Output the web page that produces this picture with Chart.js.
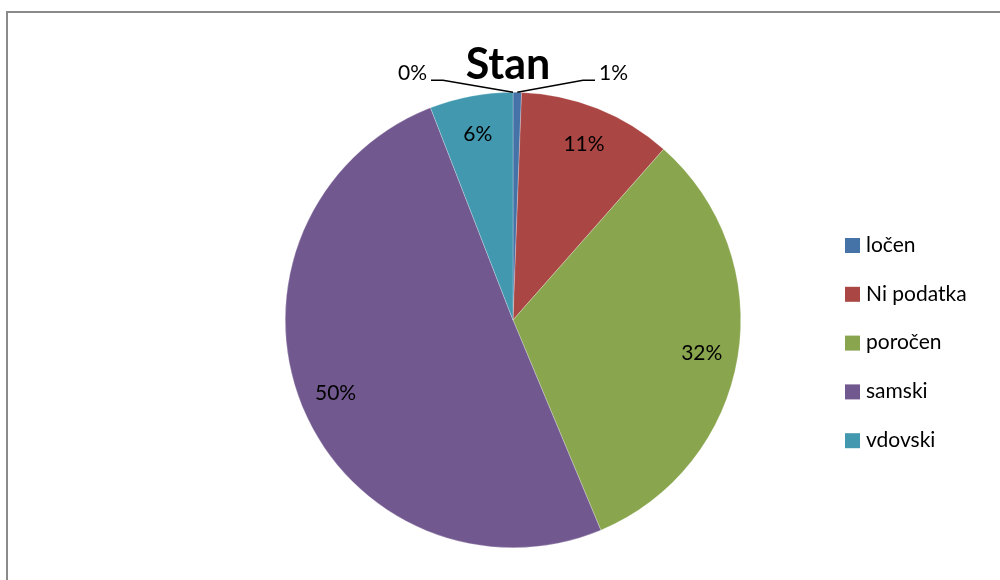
<!DOCTYPE html>
<html>
<head>
<meta charset="utf-8">
<script src="https://cdn.jsdelivr.net/npm/chart.js@4/dist/chart.umd.min.js"></script>
<style>
  html, body { margin: 0; padding: 0; background: #fff; overflow: hidden; }
  #wrap { position: relative; width: 1000px; height: 580px; }
  #frame { position: absolute; left: 6px; top: 11px; width: 1200px; height: 800px; border: 2px solid #8a8a8a; }
  canvas { position: absolute; left: 0; top: 0; }
</style>
</head>
<body>
<div id="wrap">
  <div id="frame"></div>
  <canvas id="myChart" width="1000" height="580"></canvas>
</div>
<script>
// data (share in %)
const categories = ['ločen', 'Ni podatka', 'poročen', 'samski', 'vdovski', ''];
const shares = [0.6, 10.9, 32.2, 50.4, 5.9, 0];
const sliceColors = ['#4572A7', '#AA4643', '#89A54E', '#71588F', '#4198AF', '#4572A7'];
const chartTitle = 'Stan';

const FONT = 'Lato, "Open Sans", sans-serif';

// labels, leader lines, title and legend drawn on top of the pie
const excelLook = {
    id: 'excelLook',
    afterDraw(chart) {
        const ctx = chart.ctx;
        const arcs = chart.getDatasetMeta(0).data;
        const total = shares.reduce((a, b) => a + b, 0);

        ctx.save();
        ctx.fillStyle = '#000';
        ctx.font = '21px ' + FONT;
        ctx.textBaseline = 'middle';

        arcs.forEach((arc, i) => {
            const pct = Math.round(shares[i] / total * 100) + '%';
            const mid = (arc.startAngle + arc.endAngle) / 2;
            const cx = arc.x, cy = arc.y, R = arc.outerRadius;
            if (shares[i] >= 2) {
                const r = R * 0.84;
                ctx.textAlign = 'center';
                ctx.fillText(pct, cx + Math.cos(mid) * r, cy + Math.sin(mid) * r + 2);
            } else {
                // small slice: label outside with a leader line
                let fromTop = mid + Math.PI / 2;
                fromTop = ((fromTop % (2 * Math.PI)) + 2 * Math.PI) % (2 * Math.PI);
                const side = (fromTop > 0 && fromTop < Math.PI) ? 1 : -1;
                const sx = cx + Math.cos(mid) * R, sy = cy + Math.sin(mid) * R;
                const ex = cx + side * 70, ey = cy - R - 12;
                const hx = ex + side * 12;
                ctx.strokeStyle = '#000';
                ctx.lineWidth = 1.5;
                ctx.beginPath();
                ctx.moveTo(sx, sy);
                ctx.lineTo(ex, ey);
                ctx.lineTo(hx, ey);
                ctx.stroke();
                ctx.textAlign = side > 0 ? 'left' : 'right';
                ctx.fillText(pct, hx + side * 4, ey - 7);
            }
        });

        // title
        ctx.font = 'bold 43px ' + FONT;
        ctx.textAlign = 'center';
        ctx.textBaseline = 'alphabetic';
        ctx.fillText(chartTitle, 508, 79);

        // legend
        ctx.font = '21px ' + FONT;
        ctx.textAlign = 'left';
        ctx.textBaseline = 'middle';
        let y = 245;
        categories.forEach((name, i) => {
            if (!name) return;
            ctx.fillStyle = sliceColors[i];
            ctx.fillRect(845, y - 7, 15, 15);
            ctx.fillStyle = '#000';
            ctx.fillText(name, 866, y);
            y += 48.8;
        });
        ctx.restore();
    }
};

new Chart(document.getElementById('myChart'), {
    type: 'pie',
    data: {
        labels: categories,
        datasets: [{
            data: shares,
            backgroundColor: sliceColors,
            borderColor: 'rgba(255,255,255,0.5)',
            borderWidth: 0.5
        }]
    },
    options: {
        responsive: false,
        animation: false,
        devicePixelRatio: 1,
        layout: { padding: { left: 285, right: 259, top: 92, bottom: 32 } },
        plugins: {
            legend: { display: false },
            tooltip: { enabled: false },
            title: { display: false }
        }
    },
    plugins: [excelLook]
});
</script>
</body>
</html>
